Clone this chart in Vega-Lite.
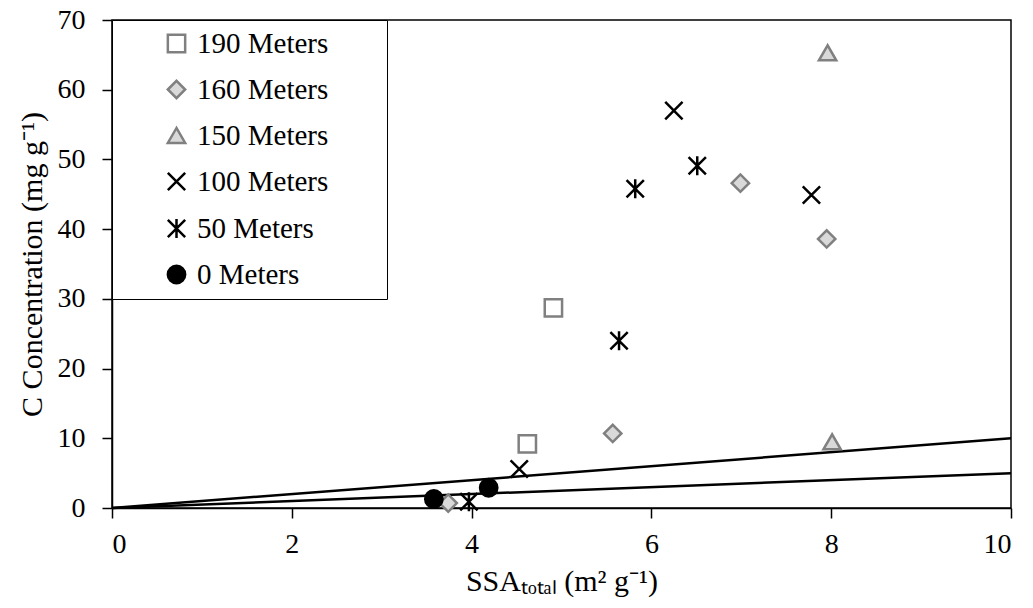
{
  "$schema": "https://vega.github.io/schema/vega-lite/v6.json",
  "width": 899,
  "height": 488,
  "autosize": {"type": "none"},
  "padding": {"left": 112, "top": 20, "right": 22, "bottom": 100},
  "background": "white",
  "config": {
    "view": {"stroke": "black", "strokeWidth": 1.5},
    "font": "Liberation Serif",
    "axis": {
      "grid": false,
      "domainColor": "black",
      "domainWidth": 1.5,
      "tickColor": "black",
      "tickWidth": 1.5,
      "tickSize": 10,
      "labelFont": "Liberation Serif",
      "labelFontSize": 28,
      "labelColor": "black",
      "titleFont": "Liberation Serif",
      "titleFontSize": 30,
      "titleFontWeight": "normal",
      "titleColor": "black"
    },
    "legend": {
      "orient": "top-left",
      "offset": 0,
      "fillColor": "white",
      "strokeColor": "black",
      "padding": 9,
      "symbolOffset": 41,
      "labelOffset": 6,
      "rowPadding": 16,
      "labelFont": "Liberation Serif",
      "labelFontSize": 29,
      "labelColor": "black",
      "symbolSize": 300,
      "symbolStrokeWidth": 2.5,
      "titleOrient": "right",
      "titlePadding": 50,
      "titleFont": "Liberation Serif",
      "titleFontSize": 20
    }
  },
  "layer": [
    {
      "data": {
        "values": [
          {"ssa": 0, "c": 0, "line": "1:1"},
          {"ssa": 10, "c": 10, "line": "1:1"},
          {"ssa": 0, "c": 0, "line": "1:2"},
          {"ssa": 10, "c": 5, "line": "1:2"}
        ]
      },
      "mark": {"type": "line", "color": "black", "strokeWidth": 2.5},
      "encoding": {
        "x": {
          "field": "ssa",
          "type": "quantitative",
          "scale": {"domain": [0, 10], "nice": false},
          "axis": {
            "values": [0, 2, 4, 6, 8, 10],
            "format": "d",
            "labelPadding": 12,
            "title": "SSAₜₒₜₐₗ (m² g⁻¹)",
            "titlePadding": 8
          }
        },
        "y": {
          "field": "c",
          "type": "quantitative",
          "scale": {"domain": [0, 70], "nice": false},
          "axis": {
            "values": [0, 10, 20, 30, 40, 50, 60, 70],
            "format": "d",
            "labelPadding": 17,
            "title": "C Concentration (mg g⁻¹)",
            "titlePadding": 10
          }
        },
        "detail": {"field": "line"}
      }
    },
    {
      "data": {
        "values": [
          {"ssa": 4.62, "c": 9.2, "series": "190 Meters"},
          {"ssa": 4.91, "c": 28.7, "series": "190 Meters"},
          {"ssa": 3.74, "c": 0.7, "series": "160 Meters"},
          {"ssa": 5.57, "c": 10.7, "series": "160 Meters"},
          {"ssa": 6.99, "c": 46.6, "series": "160 Meters"},
          {"ssa": 7.95, "c": 38.6, "series": "160 Meters"},
          {"ssa": 7.96, "c": 65.3, "series": "150 Meters"},
          {"ssa": 8.01, "c": 9.5, "series": "150 Meters"},
          {"ssa": 4.53, "c": 5.6, "series": "100 Meters"},
          {"ssa": 6.25, "c": 57.0, "series": "100 Meters"},
          {"ssa": 7.78, "c": 44.9, "series": "100 Meters"},
          {"ssa": 3.97, "c": 0.9, "series": "50 Meters"},
          {"ssa": 5.64, "c": 24.0, "series": "50 Meters"},
          {"ssa": 5.82, "c": 45.8, "series": "50 Meters"},
          {"ssa": 6.51, "c": 49.1, "series": "50 Meters"},
          {"ssa": 3.58, "c": 1.3, "series": "0 Meters"},
          {"ssa": 4.19, "c": 2.9, "series": "0 Meters"}
        ]
      },
      "mark": {"type": "point", "size": 300, "strokeWidth": 2.5, "opacity": 1},
      "encoding": {
        "x": {"field": "ssa", "type": "quantitative"},
        "y": {"field": "c", "type": "quantitative"},
        "shape": {
          "field": "series",
          "type": "nominal",
          "title": " ",
          "sort": null,
          "scale": {
            "domain": ["190 Meters", "160 Meters", "150 Meters", "100 Meters", "50 Meters", "0 Meters"],
            "range": ["square", "diamond", "triangle-up", "M-1,-1L1,1M1,-1L-1,1", "M-1,-1L1,1M1,-1L-1,1M0,-1.1L0,1.1", "circle"]
          }
        },
        "fill": {
          "field": "series",
          "type": "nominal",
          "title": " ",
          "sort": null,
          "scale": {
            "domain": ["190 Meters", "160 Meters", "150 Meters", "100 Meters", "50 Meters", "0 Meters"],
            "range": ["white", "#d9d9d9", "#d9d9d9", "transparent", "transparent", "black"]
          }
        },
        "stroke": {
          "field": "series",
          "type": "nominal",
          "title": " ",
          "sort": null,
          "scale": {
            "domain": ["190 Meters", "160 Meters", "150 Meters", "100 Meters", "50 Meters", "0 Meters"],
            "range": ["#808080", "#808080", "#808080", "black", "black", "black"]
          }
        }
      }
    }
  ]
}
